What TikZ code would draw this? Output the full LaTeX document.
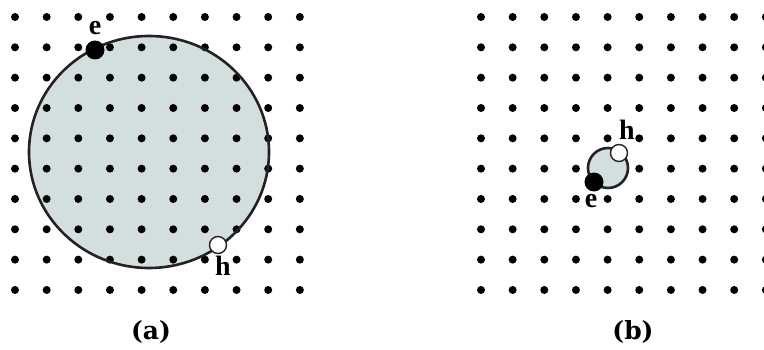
\documentclass[tikz,border=0pt]{standalone}
\usepackage{fontspec}
\setmainfont{Liberation Serif}
\newfontfamily\capfont{DejaVu Serif}
\usetikzlibrary{positioning}
\definecolor{excfill}{HTML}{D3DEDE}
\definecolor{excline}{HTML}{222222}

\begin{document}
\begin{tikzpicture}[x=1pt, y=-1pt,
    exciton/.style={draw=excline, line width=2.6pt, fill=excfill},
    electron/.style={circle, fill=black, inner sep=0pt, minimum size=19pt},
    hole/.style={circle, draw=excline, line width=1.4pt, fill=white, inner sep=0pt, minimum size=17pt},
    carrier/.style={font=\fontsize{28}{28}\selectfont\bfseries, inner sep=0pt},
    caption/.style={font=\capfont\fontsize{25}{25}\selectfont\bfseries, inner sep=0pt}
]
\useasboundingbox (0,0) rectangle (764,350);

% (a) large exciton
\fill[excfill] (149,152) ellipse [x radius=120, y radius=116];
\foreach \i in {0,...,9}
  \foreach \j in {0,...,9}
    \fill (15+31.65*\i, 17+30.33*\j) circle (4pt);
\draw[excline, line width=2.6pt] (149,152) ellipse [x radius=120, y radius=116];

\node[electron] (ea) at (95,50) {};
\node[hole] (ha) at (218,245) {};
\node[carrier, above=5pt of ea] (ela) {e};
\node[carrier, below=2pt of ha, xshift=5pt] (hla) {h};

% (b) small exciton
\foreach \i in {0,...,9}
  \foreach \j in {0,...,9}
    \fill (481+31.65*\i, 17+30.33*\j) circle (4pt);
\draw[exciton] (608,168) circle (20pt);

\node[electron] (eb) at (594,182) {};
\node[hole] (hb) at (619,153) {};
\node[carrier, below=2pt of eb, xshift=-3pt] (elb) {e};
\node[carrier, above=4pt of hb, xshift=8pt] (hlb) {h};

\node[caption] (capa) at (151,332) {(a)};
\node[caption] (capb) at (633,332) {(b)};

\end{tikzpicture}
\end{document}
